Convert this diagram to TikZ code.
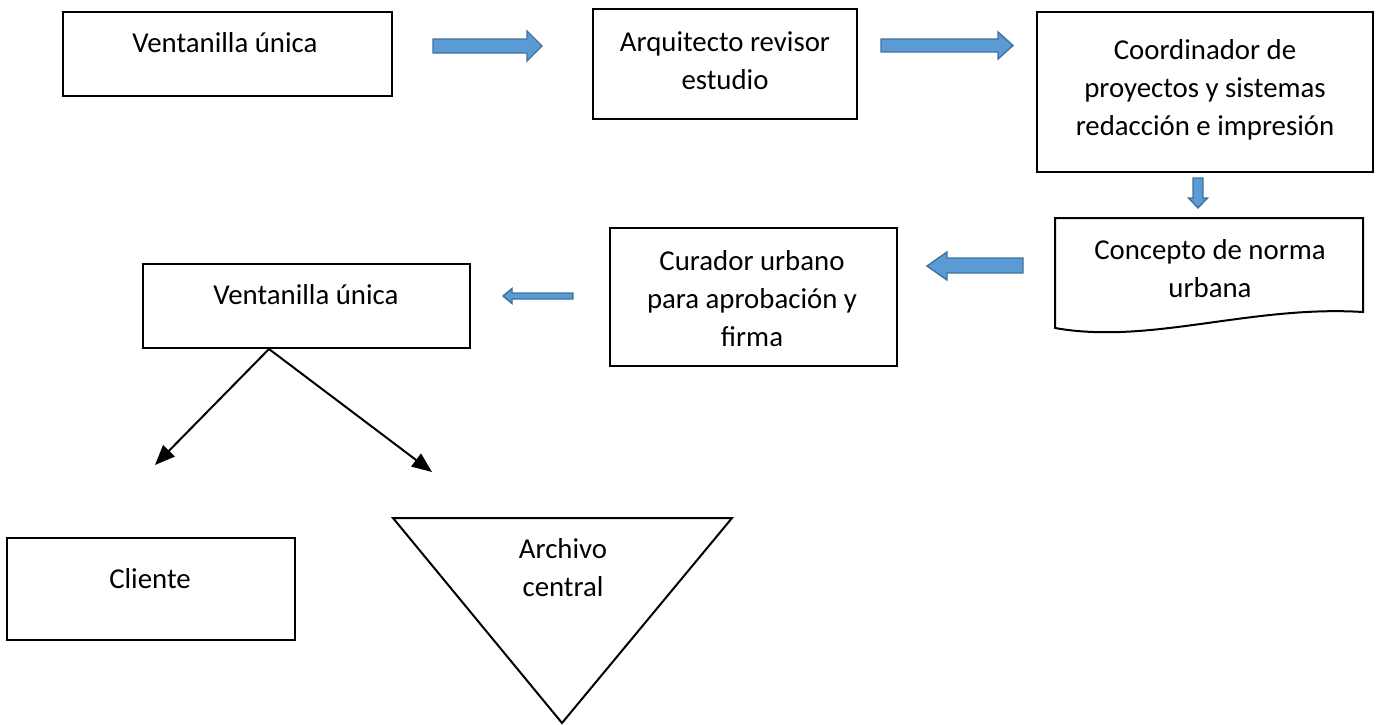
\documentclass[tikz,border=0pt]{standalone}
\usepackage{fontspec}
\setmainfont{Carlito}
\usetikzlibrary{arrows.meta}
\definecolor{blockfill}{HTML}{5B9BD5}
\definecolor{blockline}{HTML}{41719C}
\begin{document}
\begin{tikzpicture}[x=0.5pt,y=-0.5pt,
  box/.style={draw=black, line width=1pt, inner sep=0pt},
  txt/.style={align=center, font=\fontsize{14.4}{19}\selectfont, inner sep=0pt},
  blockarrow/.style={fill=blockfill, draw=blockline, line width=0.7pt, line join=miter},
  shapeline/.style={draw=black, line width=1pt, line join=miter},
  link/.style={line width=1pt, -{Triangle[length=10pt,width=8pt]}}]
\useasboundingbox (0,0) rectangle (1377,724);
\fill[white] (0,0) rectangle (1377,724);

% boxes
\node[box, minimum width=164.5pt, minimum height=42pt] (v1) at (227.5,54) {};
\node[txt] (v1t) at (225,43) {Ventanilla única};

\node[box, minimum width=132pt, minimum height=55pt] (arq) at (725,64) {};
\node[txt] (arqt) at (725,61) {Arquitecto revisor\\estudio};

\node[box, minimum width=168pt, minimum height=80pt] (coord) at (1205,92) {};
\node[txt] (coordt) at (1205,89.5) {Coordinador de\\proyectos y sistemas\\redacción e impresión};

% document shape
\draw[shapeline] (1055,328) -- (1055,218) -- (1363,218) -- (1363,312)
  .. controls (1250,305) and (1150,345) .. (1055,328) -- cycle;
\node[txt] (doct) at (1210,268.5) {Concepto de norma\\urbana};

\node[box, minimum width=143.5pt, minimum height=69pt] (cur) at (753.5,297) {};
\node[txt] (curt) at (752,299) {Curador urbano\\para aprobación y\\firma};

\node[box, minimum width=163.5pt, minimum height=42pt] (v2) at (306.5,306) {};
\node[txt] (v2t) at (306,295) {Ventanilla única};

\node[box, minimum width=144pt, minimum height=51pt] (cli) at (151,589) {};
\node[txt] (clit) at (150,579) {Cliente};

% triangle
\draw[shapeline] (393,518) -- (732,518) -- (562,723) -- cycle;
\node[txt] (arct) at (563,568) {Archivo\\central};

% block arrows
\draw[blockarrow] (433,39) -- (527,39) -- (527,31) -- (542,46) -- (527,61) -- (527,53) -- (433,53) -- cycle;
\draw[blockarrow] (881,39) -- (998,39) -- (998,32) -- (1013,45.5) -- (998,59) -- (998,52) -- (881,52) -- cycle;
\draw[blockarrow] (1193,178) -- (1203,178) -- (1203,198) -- (1207.5,198) -- (1198,208) -- (1188.5,198) -- (1193,198) -- cycle;
\draw[blockarrow] (1023,258) -- (947,258) -- (947,252) -- (927,266) -- (947,280) -- (947,273) -- (1023,273) -- cycle;
\draw[blockarrow] (573,293) -- (512,293) -- (512,288.5) -- (503,296) -- (512,303.5) -- (512,299) -- (573,299) -- cycle;

% connectors
\coordinate (tipL) at (155,465);
\coordinate (tipR) at (432,472);
\draw[link] ([xshift=63.5pt]v2.south west) -- (tipL);
\draw[link] ([xshift=63.5pt]v2.south west) -- (tipR);
\end{tikzpicture}
\end{document}
